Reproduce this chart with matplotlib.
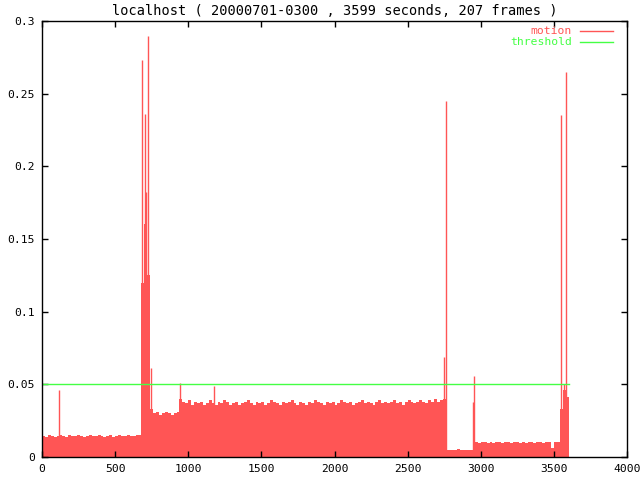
import numpy as np
import matplotlib
matplotlib.use("Agg")
from matplotlib import pyplot as plt
from matplotlib.ticker import FormatStrFormatter

# ================================================================
# DATA
# ================================================================
TITLE = "localhost ( 20000701-0300 , 3599 seconds, 207 frames )"
STEP = 20  # seconds per bin of the base motion level

# 0 - 680 s
quiet_start = [0.0145, 0.0140, 0.0150, 0.0145, 0.0138, 0.0147, 0.0150, 0.0142, 0.0140, 0.0148,
               0.0145, 0.0143, 0.0150, 0.0146, 0.0140, 0.0144, 0.0148, 0.0142, 0.0145, 0.0150,
               0.0143, 0.0139, 0.0146, 0.0148, 0.0141, 0.0145, 0.0149, 0.0143, 0.0146, 0.0150,
               0.0147, 0.0144, 0.0151, 0.0150]
# 680 - 760 s
burst = [0.120, 0.160, 0.125, 0.033]
# 760 - 960 s
mid_low = [0.030, 0.031, 0.029, 0.030, 0.031, 0.030, 0.029, 0.030, 0.031, 0.040]
# 960 - 2760 s
busy = [0.038, 0.037, 0.039, 0.036, 0.038, 0.037, 0.038, 0.036, 0.037, 0.039,
        0.037, 0.036, 0.038, 0.037, 0.039, 0.038, 0.036, 0.037, 0.038, 0.036,
        0.037, 0.038, 0.039, 0.037, 0.036, 0.038, 0.037, 0.038, 0.036, 0.037,
        0.039, 0.038, 0.037, 0.036, 0.038, 0.037, 0.038, 0.039, 0.037, 0.036,
        0.038, 0.037, 0.036, 0.038, 0.037, 0.039, 0.038, 0.037, 0.036, 0.038,
        0.037, 0.038, 0.036, 0.037, 0.039, 0.038, 0.037, 0.038, 0.036, 0.037,
        0.038, 0.039, 0.037, 0.038, 0.037, 0.036, 0.038, 0.039, 0.037, 0.038,
        0.037, 0.038, 0.039, 0.037, 0.038, 0.036, 0.038, 0.039, 0.038, 0.037,
        0.038, 0.039, 0.038, 0.037, 0.039, 0.038, 0.040, 0.038, 0.039, 0.040]
# 2760 - 2960 s
night = [0.0050, 0.0045, 0.0050, 0.0048, 0.0052, 0.0045, 0.0050, 0.0048, 0.0045, 0.0050]
# 2960 - 3540 s
late = [0.0100, 0.0095, 0.0105, 0.0100, 0.0098, 0.0102, 0.0095, 0.0100, 0.0105, 0.0098,
        0.0100, 0.0102, 0.0096, 0.0100, 0.0104, 0.0098, 0.0100, 0.0095, 0.0102, 0.0100,
        0.0098, 0.0105, 0.0100, 0.0096, 0.0102, 0.0100, 0.0065, 0.0100, 0.0105]
# 3540 - 3600 s
end_burst = [0.033, 0.046, 0.041]

# single-frame spikes (seconds, motion)
spike_t = [116, 686, 704, 711, 727, 745, 944, 1174, 2752, 2762, 2950, 2956, 3551, 3572, 3585]
spike_v = [0.046, 0.273, 0.236, 0.182, 0.290, 0.061, 0.051, 0.049, 0.069, 0.245, 0.038, 0.056,
           0.235, 0.050, 0.265]

THRESHOLD = 0.05
THRESHOLD_SPAN = (0, 3600)

X_TICKS = [0, 500, 1000, 1500, 2000, 2500, 3000, 3500, 4000]
Y_TICKS = [0, 0.05, 0.1, 0.15, 0.2, 0.25, 0.3]

RED = "#ff5555"
GREEN = "#44ff44"

# ================================================================
# PLOT
# ================================================================
plt.rcParams["font.family"] = ["DejaVu Sans Mono"]
plt.rcParams["font.size"] = 8.2

motion = np.array(quiet_start + burst + mid_low + busy + night + late + end_burst)
edges = np.arange(len(motion) + 1) * STEP

fig = plt.figure(figsize=(6.4, 4.8), dpi=100)
ax = fig.add_axes([42 / 640, 23 / 480, 585 / 640, 436 / 480])

ax.stairs(motion, edges, fill=True, color=RED, linewidth=0)
ax.vlines(spike_t, 0, spike_v, color=RED, linewidth=1.0)
ax.plot(THRESHOLD_SPAN, [THRESHOLD, THRESHOLD], color=GREEN, linewidth=1.0)

ax.set_xlim(0, 4000)
ax.set_ylim(0, 0.3)
ax.set_xticks(X_TICKS)
ax.set_yticks(Y_TICKS)
ax.yaxis.set_major_formatter(FormatStrFormatter("%g"))
ax.tick_params(direction="in", length=4.5, width=1, top=True, right=True, pad=5)
for s in ax.spines.values():
    s.set_linewidth(1)

ax.set_title(TITLE, pad=4)

# legend, gnuplot style: text right-aligned, sample line on the right
for i, (label, col) in enumerate([("motion", RED), ("threshold", GREEN)]):
    y = 0.977 - i * 0.025
    ax.text(0.906, y, label, color=col, ha="right", va="center", transform=ax.transAxes)
    ax.plot([0.920, 0.976], [y, y], color=col, linewidth=1.0, transform=ax.transAxes)

fig.savefig("out.png", dpi=100)
